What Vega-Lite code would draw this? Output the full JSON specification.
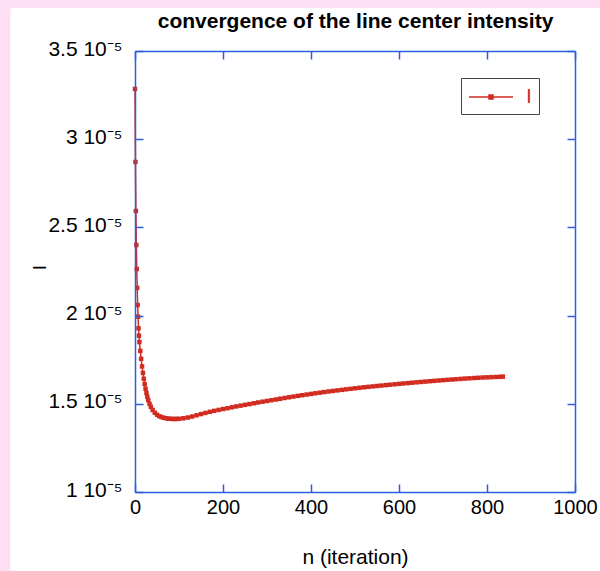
{
  "$schema": "https://vega.github.io/schema/vega-lite/v6.json",
  "width": 440,
  "height": 441,
  "autosize": {"type": "none"},
  "padding": {"left": 135, "top": 51, "right": 25, "bottom": 79},
  "background": "#fde0f4",
  "config": {
    "font": "Liberation Sans",
    "view": {"stroke": "#2b5fdc", "strokeWidth": 1.5},
    "axis": {"grid": false, "domainColor": "#2b5fdc", "domainWidth": 1.5, "tickColor": "#2b5fdc", "tickWidth": 1.5, "tickSize": -8, "labelFont": "Liberation Sans", "labelFontSize": 20, "labelColor": "#000000", "titleFont": "Liberation Sans", "titleFontSize": 21, "titleFontWeight": "normal", "titleColor": "#000000"}
  },
  "data": {"values": [
    {"n": 0, "I": 3.285e-5}, {"n": 1, "I": 2.871e-5}, {"n": 2, "I": 2.593e-5}, {"n": 3, "I": 2.400e-5}, {"n": 4, "I": 2.264e-5},
    {"n": 5, "I": 2.157e-5}, {"n": 6, "I": 2.060e-5}, {"n": 7, "I": 1.994e-5}, {"n": 8, "I": 1.928e-5}, {"n": 9, "I": 1.886e-5},
    {"n": 10, "I": 1.850e-5}, {"n": 12, "I": 1.800e-5}, {"n": 14, "I": 1.755e-5}, {"n": 16, "I": 1.712e-5}, {"n": 18, "I": 1.675e-5},
    {"n": 20, "I": 1.642e-5}, {"n": 22, "I": 1.612e-5}, {"n": 24, "I": 1.585e-5}, {"n": 26, "I": 1.561e-5}, {"n": 28, "I": 1.540e-5},
    {"n": 30, "I": 1.521e-5}, {"n": 33, "I": 1.500e-5}, {"n": 36, "I": 1.483e-5}, {"n": 40, "I": 1.465e-5}, {"n": 45, "I": 1.449e-5},
    {"n": 50, "I": 1.438e-5}, {"n": 55, "I": 1.430e-5}, {"n": 60, "I": 1.425e-5}, {"n": 65, "I": 1.421e-5}, {"n": 70, "I": 1.418e-5},
    {"n": 75, "I": 1.416e-5}, {"n": 80, "I": 1.415e-5}, {"n": 85, "I": 1.414e-5}, {"n": 90, "I": 1.414e-5}, {"n": 95, "I": 1.414e-5},
    {"n": 100, "I": 1.415e-5}, {"n": 110, "I": 1.418e-5}, {"n": 120, "I": 1.422e-5}, {"n": 130, "I": 1.428e-5}, {"n": 140, "I": 1.435e-5},
    {"n": 150, "I": 1.4418e-5}, {"n": 160, "I": 1.4482e-5}, {"n": 170, "I": 1.4544e-5}, {"n": 180, "I": 1.4600e-5}, {"n": 190, "I": 1.4652e-5},
    {"n": 200, "I": 1.4702e-5}, {"n": 210, "I": 1.475e-5}, {"n": 220, "I": 1.480e-5}, {"n": 230, "I": 1.485e-5}, {"n": 240, "I": 1.4895e-5},
    {"n": 250, "I": 1.494e-5}, {"n": 260, "I": 1.4985e-5}, {"n": 270, "I": 1.503e-5}, {"n": 280, "I": 1.5075e-5}, {"n": 290, "I": 1.512e-5},
    {"n": 300, "I": 1.516e-5}, {"n": 310, "I": 1.5203e-5}, {"n": 320, "I": 1.5245e-5}, {"n": 330, "I": 1.5287e-5}, {"n": 340, "I": 1.5329e-5},
    {"n": 350, "I": 1.537e-5}, {"n": 360, "I": 1.541e-5}, {"n": 370, "I": 1.5448e-5}, {"n": 380, "I": 1.5486e-5}, {"n": 390, "I": 1.5523e-5},
    {"n": 400, "I": 1.556e-5}, {"n": 410, "I": 1.5595e-5}, {"n": 420, "I": 1.563e-5}, {"n": 430, "I": 1.5665e-5}, {"n": 440, "I": 1.570e-5},
    {"n": 450, "I": 1.573e-5}, {"n": 460, "I": 1.576e-5}, {"n": 470, "I": 1.579e-5}, {"n": 480, "I": 1.582e-5}, {"n": 490, "I": 1.585e-5},
    {"n": 500, "I": 1.588e-5}, {"n": 510, "I": 1.5907e-5}, {"n": 520, "I": 1.5934e-5}, {"n": 530, "I": 1.596e-5}, {"n": 540, "I": 1.5985e-5},
    {"n": 550, "I": 1.601e-5}, {"n": 560, "I": 1.6034e-5}, {"n": 570, "I": 1.6058e-5}, {"n": 580, "I": 1.6082e-5}, {"n": 590, "I": 1.6106e-5},
    {"n": 600, "I": 1.613e-5}, {"n": 610, "I": 1.6152e-5}, {"n": 620, "I": 1.6174e-5}, {"n": 630, "I": 1.6196e-5}, {"n": 640, "I": 1.6218e-5},
    {"n": 650, "I": 1.624e-5}, {"n": 660, "I": 1.626e-5}, {"n": 670, "I": 1.628e-5}, {"n": 680, "I": 1.630e-5}, {"n": 690, "I": 1.632e-5},
    {"n": 700, "I": 1.634e-5}, {"n": 710, "I": 1.6358e-5}, {"n": 720, "I": 1.6376e-5}, {"n": 730, "I": 1.6394e-5}, {"n": 740, "I": 1.6412e-5},
    {"n": 750, "I": 1.643e-5}, {"n": 760, "I": 1.6445e-5}, {"n": 770, "I": 1.646e-5}, {"n": 780, "I": 1.6475e-5}, {"n": 790, "I": 1.649e-5},
    {"n": 800, "I": 1.650e-5}, {"n": 810, "I": 1.651e-5}, {"n": 820, "I": 1.652e-5}, {"n": 830, "I": 1.653e-5}, {"n": 836, "I": 1.654e-5}
  ]},
  "resolve": {"axis": {"x": "independent", "y": "independent"}},
  "layer": [
    {
      "mark": {"type": "rect", "color": "#ffffff", "clip": false},
      "encoding": {
        "x": {"datum": -282, "type": "quantitative", "scale": {"domain": [0, 1000], "nice": false, "zero": false}, "axis": null},
        "x2": {"datum": 1100},
        "y": {"datum": 3.74e-5, "type": "quantitative", "scale": {"domain": [1e-5, 3.5e-5], "nice": false, "zero": false}, "axis": null},
        "y2": {"datum": 0.4e-5}
      }
    },
    {
      "mark": {"type": "line", "strokeWidth": 1.5, "clip": false},
      "encoding": {
        "x": {"field": "n", "type": "quantitative", "scale": {"domain": [0, 1000], "nice": false, "zero": false},
              "axis": {"orient": "bottom", "zindex": 2, "title": "n (iteration)", "values": [0, 200, 400, 600, 800, 1000], "format": "d", "labelFlush": false, "labelPadding": 13, "titlePadding": 29}},
        "y": {"field": "I", "type": "quantitative", "scale": {"domain": [1e-5, 3.5e-5], "nice": false, "zero": false},
              "axis": {"orient": "left", "zindex": 2, "title": "I", "titleFontSize": 19, "titleY": 216, "values": [1e-5, 1.5e-5, 2e-5, 2.5e-5, 3e-5, 3.5e-5], "labelExpr": "format(datum.value*1e5, '.2~f') + ' 10⁻⁵'", "labelFontSize": 21, "labelPadding": 21, "labelOffset": -2, "titlePadding": -2}},
        "color": {"datum": "I", "scale": {"range": ["#d22b1f"]},
                  "legend": {"orient": "none", "legendX": 326, "legendY": 27, "title": null, "zindex": 2,
                             "symbolType": "M-1,0H3M0.82,-0.18H1.18V0.18H0.82Z", "symbolSize": 484, "symbolStrokeWidth": 1.5,
                             "symbolStrokeColor": "#d22b1f", "symbolFillColor": "#d22b1f",
                             "labelColor": "#d22b1f", "labelFontSize": 21, "labelOffset": 34, "padding": 7,
                             "strokeColor": "#444444", "fillColor": "#ffffff"}}
      }
    },
    {
      "mark": {"type": "point", "shape": "square", "filled": true, "size": 20, "opacity": 1, "color": "#d22b1f", "clip": false},
      "encoding": {
        "x": {"field": "n", "type": "quantitative", "scale": {"domain": [0, 1000], "nice": false, "zero": false},
              "axis": {"orient": "top", "zindex": 2, "labels": false, "values": [0, 200, 400, 600, 800, 1000],
                       "title": "convergence of the line center intensity", "titleFontSize": 21, "titleFontWeight": "bold", "titlePadding": 19}},
        "y": {"field": "I", "type": "quantitative", "scale": {"domain": [1e-5, 3.5e-5], "nice": false, "zero": false},
              "axis": {"orient": "right", "zindex": 2, "title": null, "labels": false, "values": [1e-5, 1.5e-5, 2e-5, 2.5e-5, 3e-5, 3.5e-5]}}
      }
    }
  ]
}
